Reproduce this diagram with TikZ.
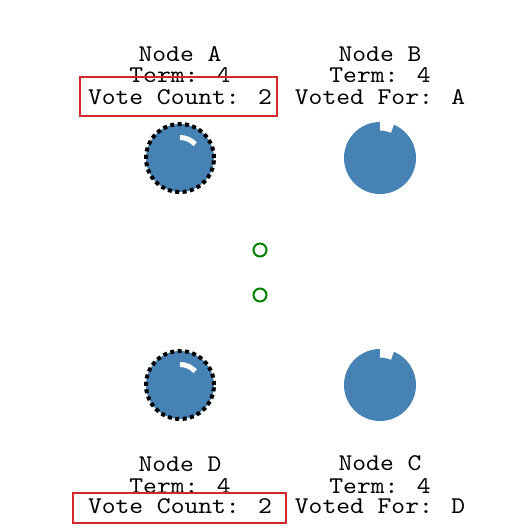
\documentclass[tikz,border=0pt]{standalone}
\usepackage{fontspec}
\newfontfamily\labelfont{lmmono10-regular}[Extension=.otf, FakeStretch=1.095]
\definecolor{steel}{RGB}{70,130,180}
\definecolor{boxred}{RGB}{210,40,45}
\definecolor{msggreen}{RGB}{0,128,0}
\begin{document}
\begin{tikzpicture}[x=1pt, y=1pt,
    server/.style={circle, fill=steel, minimum size=72pt, inner sep=0pt},
    candidate/.style={server, minimum size=68pt, draw=black, line width=4pt, dash pattern=on 4pt off 3.4pt},
    info/.style={anchor=base, inner sep=0pt, font=\labelfont\fontsize{24pt}{24pt}\selectfont},
    votebox/.style={draw=boxred, line width=2pt},
    msg/.style={circle, draw=msggreen, line width=2pt, minimum size=13pt, inner sep=0pt},
    progress/.style={white, line width=#1}]
    \useasboundingbox (0,0) rectangle (525,-531);

    % Node A (top left)
    \node[info] (nameA) at (180,-61) {Node A};
    \node[info] (termA) at (180,-82.5) {Term: 4};
    \node[info] (voteA) at (180,-104) {Vote Count: 2};
    \draw[votebox] (80,-77) rectangle (277,-116);
    \node[candidate] (A) at (180,-158) {};
    \draw[progress=5pt] (A.center) ++(90:20.5pt) arc[start angle=90, end angle=42, radius=20.5pt];

    % Node B (top right)
    \node[info] (nameB) at (380,-61) {Node B};
    \node[info] (termB) at (380,-82.5) {Term: 4};
    \node[info] (votedB) at (380,-104) {Voted For: A};
    \node[server] (B) at (380,-158) {};
    \draw[progress=9pt] (B.center) ++(90:32pt) arc[start angle=90, end angle=67, radius=32pt];

    % messages in flight
    \node[msg] (msg1) at (260,-250) {};
    \node[msg] (msg2) at (260,-295) {};

    % Node D (bottom left)
    \node[candidate] (D) at (180,-385) {};
    \draw[progress=5pt] (D.center) ++(90:20.5pt) arc[start angle=90, end angle=42, radius=20.5pt];
    \node[info] (nameD) at (180,-471) {Node D};
    \node[info] (termD) at (180,-493) {Term: 4};
    \node[info] (voteD) at (180,-513) {Vote Count: 2};
    \draw[votebox] (73,-493) rectangle (286,-523);

    % Node C (bottom right)
    \node[server] (C) at (380,-385) {};
    \draw[progress=9pt] (C.center) ++(90:32pt) arc[start angle=90, end angle=67, radius=32pt];
    \node[info] (nameC) at (380,-470) {Node C};
    \node[info] (termC) at (380,-493) {Term: 4};
    \node[info] (votedC) at (380,-513) {Voted For: D};
  \end{tikzpicture}
\end{document}
